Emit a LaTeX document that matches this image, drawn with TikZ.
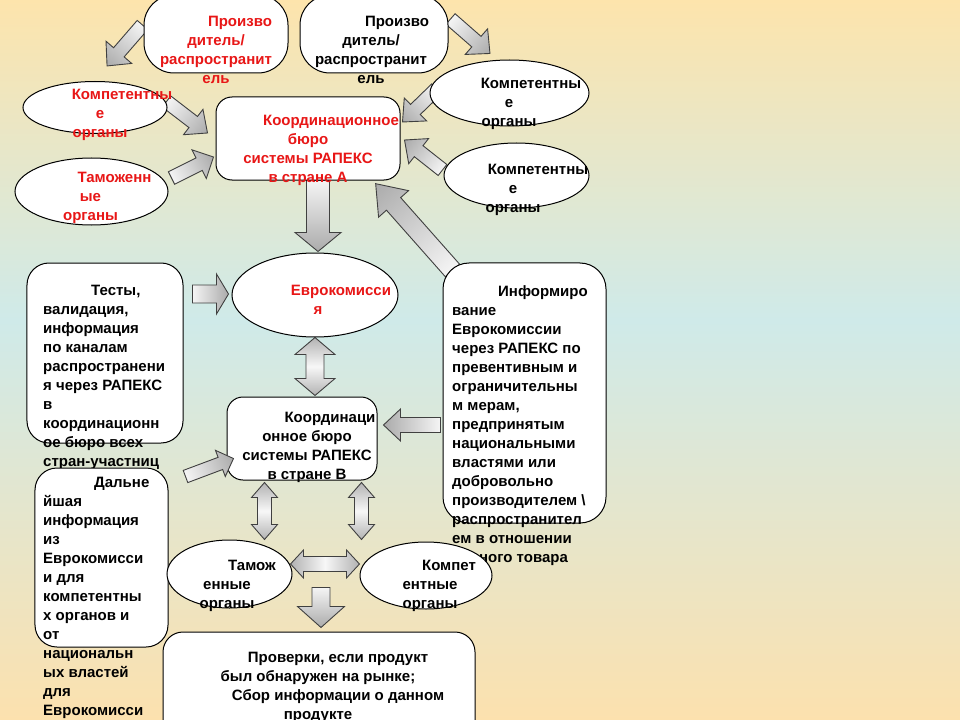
\documentclass[tikz,border=0pt]{standalone}
\usepackage{fontspec}
\setmainfont{Liberation Sans}
\usetikzlibrary{shapes.geometric,calc}

\definecolor{rapred}{RGB}{232,22,22}
\definecolor{bgtop}{RGB}{253,228,172}
\definecolor{bgmid}{RGB}{207,234,233}
\definecolor{bgbot}{RGB}{252,225,174}

\pgfdeclarelayer{back}
\pgfdeclarelayer{arrows}
\pgfsetlayers{back,arrows,main}

\tikzset{
  lbl/.style={font=\bfseries\fontsize{15bp}{19bp}\selectfont, inner sep=0pt,
    anchor=north, align=center, execute at begin node=\strut},
  lbll/.style={lbl, anchor=north west, align=left},
  redlbl/.style={lbl, text=rapred},
  oval/.style={ellipse, draw, fill=white, line width=1bp, inner sep=0pt},
  pill/.style={rectangle, rounded corners=30bp, draw, fill=white, line width=1bp, inner sep=0pt},
  card/.style={rectangle, rounded corners=16bp, draw, fill=white, line width=1bp, inner sep=0pt},
  arrowbody/.style={draw=black!75, line width=0.9bp, left color=black!4, right color=black!33},
  darrowbody/.style={draw=black!75, line width=0.9bp, left color=black!30,
    right color=black!30, middle color=black!3}
}

% angle and length from tail #1 to tip #2
\newcommand\arrowframe[2]{%
  \path let \p1=($(#2)-(#1)$) in \pgfextra{%
    \pgfmathparse{atan2(\y1,\x1)}\xdef\arang{\pgfmathresult}%
    \pgfmathparse{veclen(\x1,\y1)}\xdef\arlen{\pgfmathresult}};}
% tail, tip, shaft half width, head half width, head length
\newcommand\blockarrow[5]{%
  \arrowframe{#1}{#2}
  \begin{scope}[transform canvas={shift={(#1)},rotate=\arang}]
    \shade[arrowbody] (0bp,#3bp) -- (\arlen pt-#5bp,#3bp) -- (\arlen pt-#5bp,#4bp)
      -- (\arlen pt,0bp) -- (\arlen pt-#5bp,-#4bp) -- (\arlen pt-#5bp,-#3bp)
      -- (0bp,-#3bp) -- cycle;
  \end{scope}}
\newcommand\dblarrow[5]{%
  \arrowframe{#1}{#2}
  \begin{scope}[transform canvas={shift={(#1)},rotate=\arang}]
    \shade[darrowbody] (#5bp,#3bp) -- (\arlen pt-#5bp,#3bp) -- (\arlen pt-#5bp,#4bp)
      -- (\arlen pt,0bp) -- (\arlen pt-#5bp,-#4bp) -- (\arlen pt-#5bp,-#3bp)
      -- (#5bp,-#3bp) -- (#5bp,-#4bp) -- (0bp,0bp) -- (#5bp,#4bp) -- cycle;
  \end{scope}}

\begin{document}
\begin{tikzpicture}[x=1bp, y=-1bp]
   \useasboundingbox (0,0) rectangle (960,720);
   % Background
   \begin{pgfonlayer}{back}
      \shade[top color=bgtop, bottom color=bgmid] (0,0) rectangle (960,320);
      \shade[top color=bgmid, bottom color=bgbot] (0,320) rectangle (960,720);
   \end{pgfonlayer}

   % Country A
   \node[pill, minimum width=144bp, minimum height=78bp] (pA) at (216,34) {};
   \node[redlbl] (pAt) at (216,16.2) {\hspace*{48bp}Произво\\дитель/\\распространит\\ель};
   \node[pill, minimum width=148bp, minimum height=78bp] (pB) at (374,34) {};
   \node[lbl] (pBt) at (371,16.2) {\hspace*{52bp}Произво\\дитель/\\распространит\\ель};
   \node[oval, minimum width=144bp, minimum height=52bp] (koA) at (95,107.5) {};
   \node[redlbl] (koAt) at (100,88.7) {\hspace*{44bp}Компетентны\\е\\органы};
   \node[oval, minimum width=153bp, minimum height=67bp] (tamA) at (91.5,191.5) {};
   \node[redlbl] (tamAt) at (90.5,171.7) {\hspace*{48bp}Таможенн\\ые\\органы};
   \node[oval, minimum width=159bp, minimum height=66bp] (koR1) at (509.5,93) {};
   \node[lbl] (koR1t) at (509,77.7) {\hspace*{44bp}Компетентны\\е\\органы};
   \node[oval, minimum width=145bp, minimum height=65bp] (koR2) at (516.5,175.5) {};
   \node[lbl] (koR2t) at (513,163.7) {\hspace*{50bp}Компетентны\\е\\органы};
   \node[card, minimum width=184bp, minimum height=83bp] (bA) at (308,138.5) {};
   \node[redlbl] (bAt) at (308,114.7) {\hspace*{46bp}Координационное\\бюро\\системы РАПЕКС\\в стране А};

   % Commission
   \node[oval, minimum width=166bp, minimum height=84bp] (eur) at (315,295) {};
   \node[redlbl] (eurt) at (318,284.7) {\hspace*{46bp}Еврокомисси\\я};
   \node[card, rounded corners=22bp, minimum width=156bp, minimum height=180bp] (tests) at (105,353) {};
   \node[lbll] (testst) at (43,284.7) {\hspace*{48bp}Тесты,\\валидация,\\информация\\по каналам\\распространени\\я через РАПЕКС\\в\\координационн\\ое бюро всех\\стран-участниц};
   \node[card, rounded corners=26bp, minimum width=163bp, minimum height=260bp] (info) at (524.5,393) {};
   \node[lbll] (infot) at (452,285.7) {\hspace*{46bp}Информиро\\вание\\Еврокомиссии\\через РАПЕКС по\\превентивным и\\ограничительны\\м мерам,\\предпринятым\\национальными\\властями или\\добровольно\\производителем \textbackslash\\распространител\\ем в отношении\\данного товара};

   % Country B
   \node[card, minimum width=150bp, minimum height=83bp] (bB) at (302,438.5) {};
   \node[lbl] (bBt) at (307,411.7) {\hspace*{46bp}Координаци\\онное бюро\\системы РАПЕКС\\в стране В};
   \node[card, rounded corners=22bp, minimum width=133bp, minimum height=179bp] (dal) at (101.5,557.5) {};
   \node[lbll] (dalt) at (43,476.7) {\hspace*{51bp}Дальне\\йшая\\информация\\из\\Еврокомисси\\и для\\компетентны\\х органов и\\от\\национальн\\ых властей\\для\\Еврокомисси};
   \node[oval, minimum width=125bp, minimum height=68bp] (tamB) at (229.5,574) {};
   \node[lbl] (tamBt) at (227,559.7) {\hspace*{50bp}Тамож\\енные\\органы};
   \node[oval, minimum width=132bp, minimum height=67bp] (koB) at (426,575.5) {};
   \node[lbl] (koBt) at (430,559.7) {\hspace*{38bp}Компет\\ентные\\органы};
   \node[card, rounded corners=20bp, minimum width=312bp, minimum height=148bp] (prov) at (319,706) {};
   \node[lbl] (provt) at (318,651.7) {\hspace*{40bp}Проверки, если продукт\\был обнаружен на рынке;\\\hspace*{40bp}Сбор информации о данном\\продукте};

   % Arrow ends
   \coordinate (a1t) at ($(pA.west)+(-1,-9)$);
   \coordinate (a1h) at ($(koA.north)+(12,-15)$);
   \coordinate (a2t) at ($(koA.east)+(-1,-6)$);
   \coordinate (a2h) at ($(bA.west)+(-8,-5.5)$);
   \coordinate (a3t) at ($(tamA.east)+(3,-13.5)$);
   \coordinate (a3h) at ($(bA.west)+(-2,18.5)$);
   \coordinate (a4t) at ($(pB.east)+(2,-15)$);
   \coordinate (a4h) at ($(koR1.north)+(-19.5,-6)$);
   \coordinate (a5t) at ($(koR1.west)+(7,-4)$);
   \coordinate (a5h) at ($(bA.east)+(2,-16.5)$);
   \coordinate (a6t) at ($(koR2.west)+(-1,-5.5)$);
   \coordinate (a6h) at ($(bA.east)+(4,1.5)$);
   \coordinate (a7t) at ($(bA.south)+(10,0)$);
   \coordinate (a7h) at ($(eur.north)+(3,-1)$);
   \coordinate (a8t) at ($(info.north west)+(10,8)$);
   \coordinate (a8h) at ($(bA.south east)+(-25,3)$);
   \coordinate (a9t) at ($(tests.east)+(9,-59)$);
   \coordinate (a9h) at ($(eur.west)+(-3,-1)$);
   \coordinate (a11t) at ($(info.west)+(-2,32)$);
   \coordinate (a11h) at ($(bB.east)+(6,-13.5)$);
   \coordinate (a12t) at ($(dal.north east)+(17,9)$);
   \coordinate (a12h) at ($(bB.west)+(7,20)$);
   \coordinate (a16t) at ($(prov.north)+(2,-44)$);
   \coordinate (a16h) at ($(prov.north)+(2,-4)$);
   \coordinate (d10t) at (eur.south);
   \coordinate (d10h) at ($(bB.north)+(13,-1)$);
   \coordinate (d13t) at ($(bB.south)+(-37.5,2)$);
   \coordinate (d13h) at ($(tamB.north)+(35,0)$);
   \coordinate (d14t) at ($(bB.south)+(59.5,2)$);
   \coordinate (d14h) at ($(koB.north)+(-64.5,-2)$);
   \coordinate (d15t) at ($(tamB.east)+(-2,-10)$);
   \coordinate (d15h) at ($(koB.west)+(0,-11.5)$);

   % Arrows
   \begin{pgfonlayer}{arrows}
      \foreach \ta/\tb/\sw/\hw/\hl in {a1t/a1h/7/17/18, a2t/a2h/7/16/18,
            a3t/a3h/7/16/16, a4t/a4h/7/17/18, a5t/a5h/7/16/18, a6t/a6h/7/16/18,
            a7t/a7h/11.5/23/19, a8t/a8h/9.5/20/27, a9t/a9h/9/20/12,
            a11t/a11h/7.5/16/17, a16t/a16h/9/23.5/21}
         \blockarrow{\ta}{\tb}{\sw}{\hw}{\hl};
      \foreach \ta/\tb/\sw/\hw/\hl in {d10t/d10h/9/20/17, d13t/d13h/7/13/15,
            d14t/d14h/7/13/15, d15t/d15h/7.5/14/13}
         \dblarrow{\ta}{\tb}{\sw}{\hw}{\hl};
   \end{pgfonlayer}
   \blockarrow{a12t}{a12h}{6.5}{14}{14}
\end{tikzpicture}
\end{document}
